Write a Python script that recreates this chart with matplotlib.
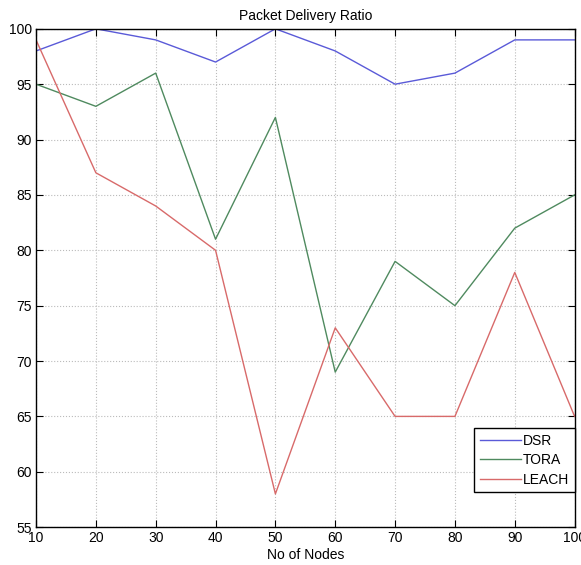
import matplotlib
matplotlib.use('Agg')
import matplotlib.pyplot as plt

#data
nodes = [10, 20, 30, 40, 50, 60, 70, 80, 90, 100]
dsr = [98, 100, 99, 97, 100, 98, 95, 96, 99, 99]
tora = [95, 93, 96, 81, 92, 69, 79, 75, 82, 85]
leach = [99, 87, 84, 80, 58, 73, 65, 65, 78, 65]

plt.rcParams['font.family'] = ['Liberation Sans', 'DejaVu Sans']

fig = plt.figure(figsize=(5.81, 5.65), dpi=100)
ax = fig.add_axes([0.062, 0.067, 0.927, 0.882])

ax.plot(nodes, dsr, color='#5a5ad8', lw=1.0, label='DSR')
ax.plot(nodes, tora, color='#4f8a5f', lw=1.0, label='TORA')
ax.plot(nodes, leach, color='#d86a6a', lw=1.0, label='LEACH')

ax.set_xlim(10, 100)
ax.set_ylim(55, 100)
ax.set_xticks(nodes)
ax.set_yticks(range(55, 101, 5))
ax.tick_params(direction='in', length=5, labelsize=10, pad=3)
ax.tick_params(top=True, right=True)
ax.grid(True, linestyle=':', color='#bbbbbb', lw=0.8)
for s in ax.spines.values():
    s.set_linewidth(1.0)

ax.set_title('Packet Delivery Ratio', fontsize=10, pad=6)
ax.set_xlabel('No of Nodes', fontsize=10, labelpad=2)

# legend sits against the right spine, a bit above the x axis
leg = ax.legend(loc='lower right', bbox_to_anchor=(1.0, 0.07), fontsize=10,
                fancybox=False, framealpha=1, edgecolor='black', borderaxespad=0,
                handlelength=3.0, handletextpad=0.1, borderpad=0.4, labelspacing=0.4)
leg.get_frame().set_linewidth(1.0)

fig.savefig('out.png', dpi=100)
